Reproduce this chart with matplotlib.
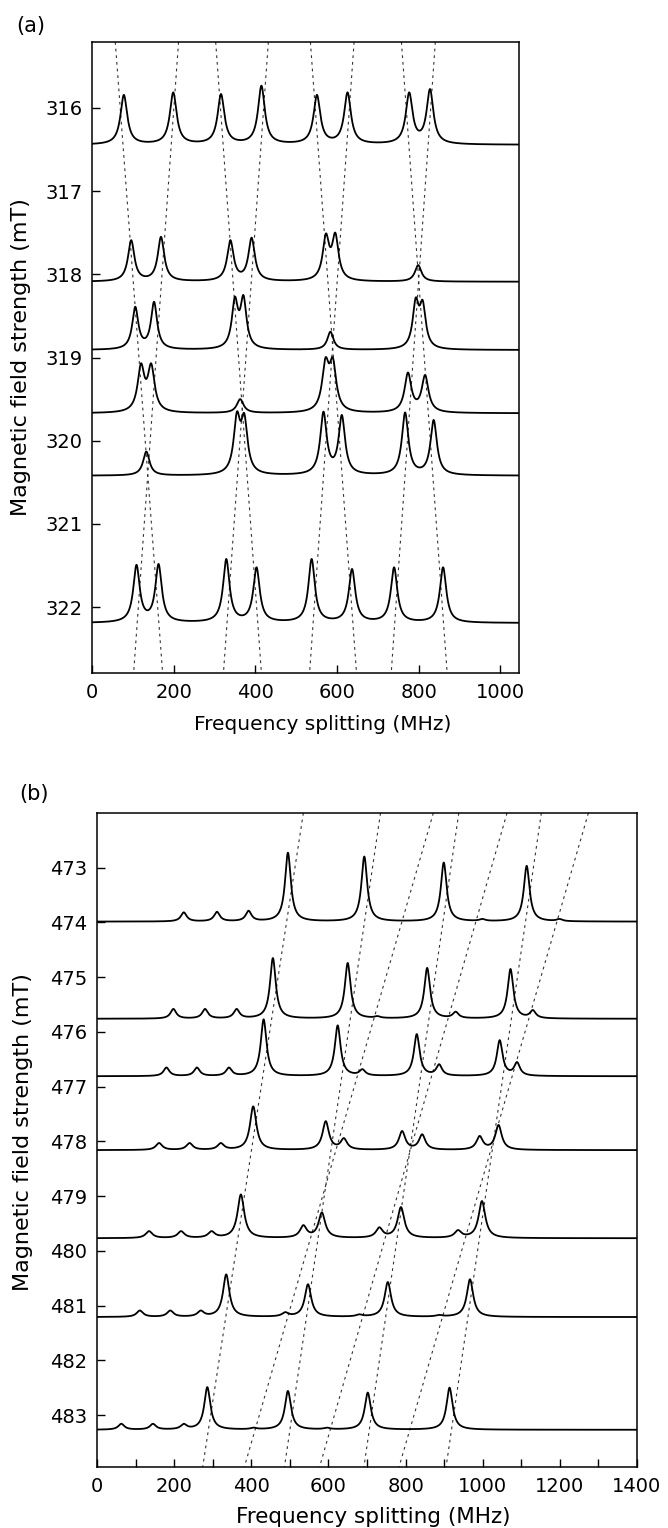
import numpy as np
import matplotlib.pyplot as plt

# ---- panel (a) ----
# field at which each trace sits (mT) and its peaks (MHz, height in mT)
fields_a = [316.445, 318.09, 318.91, 319.67, 320.42, 322.19]
peaks_a = [
    [78, 199, 316, 415, 551, 626, 777, 828],
    [96, 169, 339, 391, 573, 596, 799],
    [106, 152, 350, 371, 584, 793, 810],
    [120, 145, 363, 572, 590, 774, 816],
    [133, 355, 373, 567, 612, 767, 837],
    [109, 163, 329, 403, 538, 637, 740, 860],
]
heights_a = [
    [0.60, 0.63, 0.61, 0.71, 0.60, 0.63, 0.63, 0.67],
    [0.50, 0.54, 0.50, 0.53, 0.58, 0.59, 0.20],
    [0.52, 0.58, 0.64, 0.66, 0.22, 0.63, 0.60],
    [0.60, 0.60, 0.17, 0.67, 0.67, 0.49, 0.46],
    [0.29, 0.77, 0.75, 0.77, 0.73, 0.76, 0.67],
    [0.70, 0.71, 0.77, 0.67, 0.77, 0.65, 0.67, 0.67],
]
widths_a = [10, 9.5, 9, 10, 9.5, 9.5]
# dotted guide lines: frequency at top and bottom of the frame
lines_top_a = [57, 212, 303, 432, 535, 642, 758, 841]
lines_bot_a = [173, 102, 415, 322, 648, 533, 870, 733]
xticks_a = [0, 200, 400, 600, 800, 1000]
yticks_a = [316, 317, 318, 319, 320, 321, 322]

# ---- panel (b) ----
fields_b = [473.985, 475.76, 476.81, 478.16, 479.77, 481.21, 483.27]
peaks_b = [
    [225, 311, 393, 495, 693, 899, 1114, 999, 1199],
    [198, 280, 362, 456, 650, 856, 1072, 727, 930, 1130],
    [180, 259, 342, 432, 624, 829, 1044, 688, 887, 1089],
    [161, 240, 321, 405, 593, 640, 791, 843, 992, 1041],
    [135, 218, 297, 373, 535, 583, 732, 788, 936, 998],
    [111, 190, 269, 335, 488, 547, 680, 754, 887, 967],
    [63, 145, 225, 286, 406, 495, 596, 702, 914],
]
heights_b = [
    [0.17, 0.18, 0.20, 1.26, 1.19, 1.08, 1.02, 0.05, 0.05],
    [0.18, 0.18, 0.18, 1.11, 1.02, 0.93, 0.91, 0.05, 0.13, 0.16],
    [0.16, 0.16, 0.16, 1.04, 0.93, 0.77, 0.66, 0.13, 0.22, 0.26],
    [0.13, 0.13, 0.13, 0.80, 0.53, 0.22, 0.35, 0.29, 0.26, 0.46],
    [0.13, 0.13, 0.13, 0.80, 0.24, 0.47, 0.20, 0.57, 0.15, 0.68],
    [0.12, 0.12, 0.12, 0.78, 0.09, 0.60, 0.05, 0.64, 0.04, 0.69],
    [0.11, 0.11, 0.11, 0.78, 0.04, 0.71, 0.04, 0.68, 0.77],
]
widths_b = [9, 9, 9, 10, 10.5, 10, 9.5]
lines_top_b = [535, 735, 938, 1152, 872, 1063, 1274]
lines_bot_b = [274, 486, 692, 905, 382, 577, 783]
xticks_b = [0, 200, 400, 600, 800, 1000, 1200, 1400]
yticks_b = [473, 474, 475, 476, 477, 478, 479, 480, 481, 482, 483]


def spectrum(x, pos, height, gamma):
    # lorentzian lines, amplitudes chosen so the summed curve hits the read peak heights
    pos = np.asarray(pos, float)
    height = np.asarray(height, float)
    m = 1.0 / (1.0 + ((pos[:, None] - pos[None, :]) / gamma) ** 2)
    amp = np.clip(np.linalg.solve(m, height), 0, None)
    return (amp[:, None] / (1.0 + ((x[None, :] - pos[:, None]) / gamma) ** 2)).sum(axis=0)


def draw_panel(ax, fields, peaks, heights, widths, top, bot, xlim, ylim, xticks, yticks, minor=None):
    x = np.linspace(xlim[0], xlim[1], 4000)
    for f, p, h, g in zip(fields, peaks, heights, widths):
        ax.plot(x, f - spectrum(x, p, h, g), color='black', lw=1.3, zorder=3)
    for t, b in zip(top, bot):
        ax.plot([t, b], [ylim[1], ylim[0]], color='#333333', lw=0.8,
                linestyle=(0, (2.5, 3.5)), zorder=2)
    ax.set_xlim(xlim)
    ax.set_ylim(ylim)
    ax.set_xticks(xticks)
    if minor is not None:
        ax.set_xticks(minor, minor=True)
    ax.set_yticks(yticks)
    ax.tick_params(which='both', direction='in', length=6, width=1,
                   top=False, right=False, labelsize=14, pad=7)
    for s in ax.spines.values():
        s.set_linewidth(1.1)
    ax.set_ylabel('Magnetic field strength (mT)', fontsize=16)
    ax.yaxis.label.set_va('center')


fig = plt.figure(figsize=(6.68, 15.28), dpi=100)

ax1 = fig.add_axes([92 / 668, 1 - 673 / 1528, 427 / 668, 631 / 1528])
draw_panel(ax1, fields_a, peaks_a, heights_a, widths_a, lines_top_a, lines_bot_a,
           (0, 1046), (322.79, 315.21), xticks_a, yticks_a)
ax1.set_xlabel('Frequency splitting (MHz)', fontsize=14.5)
ax1.xaxis.label.set_va('baseline')
ax1.xaxis.set_label_coords(0.54, -0.09)
ax1.yaxis.set_label_coords(-0.166, 0.5)

ax2 = fig.add_axes([97 / 668, 1 - 1467 / 1528, 540 / 668, 654 / 1528])
draw_panel(ax2, fields_b, peaks_b, heights_b, widths_b, lines_top_b, lines_bot_b,
           (0, 1400), (483.95, 472.0), xticks_b, yticks_b,
           minor=[100, 300, 500, 700, 900, 1100, 1300])
ax2.set_xlabel('Frequency splitting (MHz)', fontsize=15.5)
ax2.xaxis.label.set_va('baseline')
ax2.xaxis.set_label_coords(0.511, -0.0856)
ax2.yaxis.set_label_coords(-0.137, 0.512)

fig.text(16 / 668, 1 - 26 / 1528, '(a)', fontsize=15, va='center', ha='left')
fig.text(19 / 668, 1 - 794 / 1528, '(b)', fontsize=15, va='center', ha='left')

fig.savefig('out.png', dpi=100)
